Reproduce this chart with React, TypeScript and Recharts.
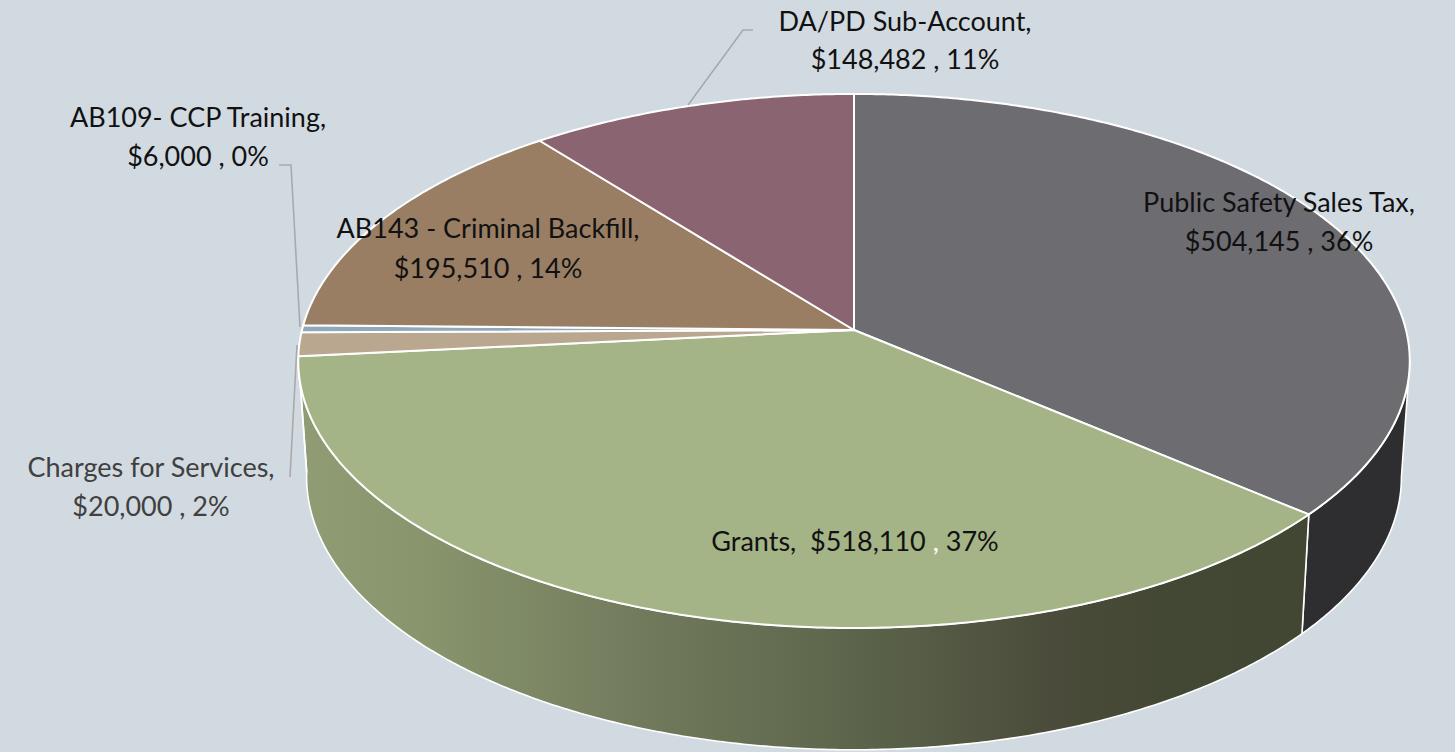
import React from "react";
import { PieChart, Pie } from "recharts";

const categories = ["Public Safety Sales Tax", "Grants", "Charges for Services", "AB109- CCP Training", "AB143 - Criminal Backfill", "DA/PD Sub-Account"];
const amounts = [504145, 518110, 20000, 6000, 195510, 148482];
const percents = [36, 37, 2, 0, 14, 11];
const topColors = ["#6d6c71", "#a5b487", "#b9a790", "#8fa8bb", "#997e63", "#8a6571"];
const wallColors = ["#2e2e30", "url(#grantsWall)", "#8a7b68", "#6b7e8c", "#6f5b47", "#654a52"];

const rows = categories.map((name, i) => ({ name, value: amounts[i], pct: percents[i], top: topColors[i], wall: wallColors[i] }));

// label layout: centre x, baselines, text colour
const labelLayout = [
  { x: 1279, ys: [212, 251], color: "#111111" },
  { x: 855, ys: [551], color: "#111111" },
  { x: 151, ys: [477, 516], color: "#404040" },
  { x: 198, ys: [127, 166], color: "#111111" },
  { x: 488, ys: [238, 278], color: "#111111" },
  { x: 905, ys: [31, 69], color: "#111111" },
];
const leaderLines: (string | null)[] = [
  null,
  null,
  "290,477 297,345",
  "279,165 291,165 300,327",
  null,
  "753,30 743,30 688,105",
];

const PERSP = 0.116;
const FLAT = 0.4772;
const FONT = "Lato, 'Open Sans', sans-serif";
const FONT_SIZE = 27;

// perspective projection of a point of the pie's circle (deg clockwise from 12 o'clock)
function project(cx: number, cy: number, r: number, deg: number) {
  const t = (deg * Math.PI) / 180;
  const sx = Math.sin(t);
  const sy = -Math.cos(t);
  const w = 1 - PERSP * sy;
  return { x: cx + (r * sx) / w, y: cy + (r * FLAT * sy) / w };
}
// the bottom rim of the pie's side
function lower(cx: number, cy: number, p: { x: number; y: number }) {
  return { x: cx + 0.985 * (p.x - cx), y: cy + 147 + 1.0217 * (p.y - cy - 31) };
}
function arc(cx: number, cy: number, r: number, a: number, b: number) {
  const n = Math.max(2, Math.ceil(Math.abs(b - a) * 2));
  const pts = [];
  for (let i = 0; i <= n; i++) pts.push(project(cx, cy, r, a + ((b - a) * i) / n));
  return pts;
}
const toPath = (pts: { x: number; y: number }[]) => "M" + pts.map((p) => `${p.x.toFixed(2)},${p.y.toFixed(2)}`).join("L") + "Z";

function TopSlice(props: any) {
  const { cx, cy, outerRadius, startAngle, endAngle, payload } = props;
  const a = 90 - startAngle;
  const b = 90 - endAngle;
  const d = toPath([{ x: cx, y: cy }, ...arc(cx, cy, outerRadius, a, b)]);
  return <path d={d} fill={payload.top} stroke="#ffffff" strokeWidth={2} strokeLinejoin="round" />;
}

function WallSlice(props: any) {
  const { cx, cy, outerRadius, startAngle, endAngle, payload } = props;
  const a = Math.max(90 - startAngle, 96.7);
  const b = Math.min(90 - endAngle, 264.4);
  if (b <= a) return null;
  const upper = arc(cx, cy, outerRadius, a, b);
  const under = upper.map((p) => lower(cx, cy, p)).reverse();
  return (
    <g>
      <defs>
        <linearGradient id="grantsWall" gradientUnits="userSpaceOnUse" x1={300} y1={0} x2={1310} y2={0}>
          <stop offset="0" stopColor="#909c74" />
          <stop offset="0.13" stopColor="#87946c" />
          <stop offset="0.33" stopColor="#737b5d" />
          <stop offset="0.55" stopColor="#5c644b" />
          <stop offset="0.75" stopColor="#4a4b3a" />
          <stop offset="0.85" stopColor="#434834" />
          <stop offset="1" stopColor="#424734" />
        </linearGradient>
      </defs>
      <path d={toPath([...upper, ...under])} fill={payload.wall} stroke="#ffffff" strokeWidth={1.6} strokeLinejoin="round" />
    </g>
  );
}

function LabelMark(props: any) {
  const i: number = props.index;
  const row = rows[i];
  const layout = labelLayout[i];
  const money = "$" + row.value.toLocaleString("en-US");
  const line = leaderLines[i];
  const common = { textAnchor: "middle" as const, fontFamily: FONT, fontSize: FONT_SIZE, fill: layout.color, style: { whiteSpace: "pre" as const } };
  return (
    <g>
      {line && <polyline points={line} fill="none" stroke="#a9a9a9" strokeWidth={1.6} />}
      {layout.ys.length === 1 ? (
        <text x={layout.x} y={layout.ys[0]} {...common}>
          {`${row.name},  ${money} `}
          <tspan fill="#ffffff">,</tspan>
          {` ${row.pct}%`}
        </text>
      ) : (
        <>
          <text x={layout.x} y={layout.ys[0]} {...common}>{`${row.name},`}</text>
          <text x={layout.x} y={layout.ys[1]} {...common}>{`${money} , ${row.pct}%`}</text>
        </>
      )}
    </g>
  );
}

export default function App() {
  return (
    <div style={{ position: "absolute", left: 0, top: 0, width: 1455, height: 752, background: "#d2dae1", overflow: "hidden" }}>
      <PieChart width={1455} height={752} margin={{ top: 0, right: 0, bottom: 0, left: 0 }} accessibilityLayer={false}>
        <Pie data={rows} dataKey="value" nameKey="name" cx={854} cy={330} outerRadius={552} startAngle={90} endAngle={-270} shape={WallSlice} isAnimationActive={false} label={false} labelLine={false} stroke="none" />
        <Pie data={rows} dataKey="value" nameKey="name" cx={854} cy={330} outerRadius={552} startAngle={90} endAngle={-270} shape={TopSlice} isAnimationActive={false} label={LabelMark} labelLine={false} stroke="none" />
      </PieChart>
    </div>
  );
}
